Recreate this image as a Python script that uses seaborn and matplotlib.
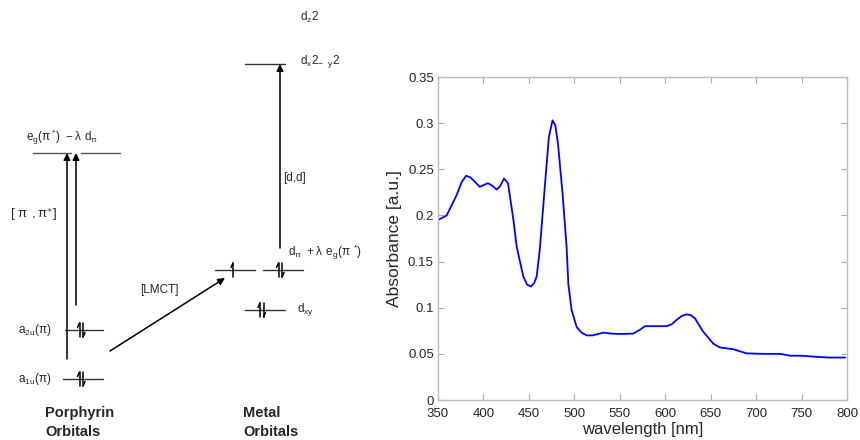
import numpy as np
import pandas as pd
import seaborn as sns
import matplotlib.pyplot as plt

# spectrum
wavelength = [350, 359.5, 370.5, 376, 381, 386, 391, 396, 405, 410, 414.5, 418.5, 422.6, 427, 433,
              436.6, 443.8, 448, 452.3, 456, 458.6, 462, 467.5, 472, 476, 479, 482, 487, 491.5,
              493.4, 497, 502.6, 508, 513.6, 520, 532, 540, 550, 565, 572, 577.7, 586.8, 601.5,
              607, 612.5, 618, 623.5, 628, 632.7, 641.8, 653, 660, 675, 689.6, 708, 726.5,
              737.5, 750, 763, 780, 798]
absorbance = [0.195, 0.200, 0.222, 0.236, 0.243, 0.241, 0.236, 0.231, 0.235, 0.232, 0.228, 0.232, 0.240, 0.235, 0.195,
              0.166, 0.134, 0.125, 0.123, 0.127, 0.134, 0.163, 0.231, 0.285, 0.303, 0.298, 0.278, 0.224, 0.166,
              0.126, 0.0975, 0.079, 0.073, 0.070, 0.070, 0.073, 0.072, 0.0715, 0.072, 0.076, 0.080, 0.080, 0.080,
              0.082, 0.0867, 0.091, 0.0928, 0.092, 0.0885, 0.074, 0.061, 0.057, 0.055, 0.0505, 0.050, 0.050,
              0.048, 0.048, 0.047, 0.046, 0.046]
xticks = [350, 400, 450, 500, 550, 600, 650, 700, 750, 800]
yticks = [0, 0.05, 0.1, 0.15, 0.2, 0.25, 0.3, 0.35]
ytick_labels = ['0', '0.05', '0.1', '0.15', '0.2', '0.25', '0.3', '0.35']

sns.set_style("white")
plt.rcParams['font.family'] = ['Liberation Sans', 'DejaVu Sans']
plt.rcParams['mathtext.default'] = 'regular'
plt.rcParams['mathtext.fontset'] = 'dejavusans'

fig = plt.figure(figsize=(8.6, 4.4), dpi=100)

# energy level diagram, drawn in pixel coordinates
dg = fig.add_axes([0, 0, 1, 1])
dg.set_xlim(0, 860)
dg.set_ylim(440, 0)
dg.axis('off')

def level(x0, x1, y, c='#333333'):
    dg.plot([x0, x1], [y, y], color=c, lw=1)

def up(x, y, c='k'):
    dg.plot([x, x], [y + 7, y - 7], color=c, lw=1.1)
    dg.plot([x, x - 2], [y - 7, y - 2.5], color=c, lw=1.1)

def down(x, y, c='k'):
    dg.plot([x, x], [y - 7, y + 7], color=c, lw=1.1)
    dg.plot([x, x + 2], [y + 7, y + 2.5], color=c, lw=1.1)

def arrow(x0, y0, x1, y1):
    dg.annotate('', xy=(x1, y1), xytext=(x0, y0),
                arrowprops=dict(arrowstyle='-|>', lw=1.1, color='k', mutation_scale=10,
                                shrinkA=0, shrinkB=0))

fs = 8.5
# porphyrin side
dg.text(26, 137, r"$e_g(\pi\,^{*})\ -\lambda\ d_\pi$", fontsize=fs, va='center')
level(33, 71, 153, '#555555')
level(81, 120, 153, '#555555')
arrow(67, 359, 67, 153)
arrow(76, 305, 76, 153)
dg.text(10, 215, r"$[\ \pi\ ,\pi^{\ast}]$", fontsize=9.5, va='center')
dg.text(18, 330, r"$a_{2u}(\pi)$", fontsize=fs, va='center')
level(65, 103, 330)
up(79.5, 330)
down(83, 330)
dg.text(18, 379, r"$a_{1u}(\pi)$", fontsize=fs, va='center')
level(63, 103, 379)
up(79.5, 379)
down(83, 379)
arrow(110, 351, 225, 278)
dg.text(140, 290, "[LMCT]", fontsize=fs, va='center')
dg.text(45, 413, "Porphyrin", fontsize=10.5, fontweight='bold', va='center')
dg.text(45, 432, "Orbitals", fontsize=10.5, fontweight='bold', va='center')

# metal side
dg.text(300, 17, r"$d_z2$", fontsize=fs, va='center')
dg.text(300, 62, r"$d_{x}2_{-\ \ y}2$", fontsize=fs, va='center')
level(245, 285, 64)
arrow(280, 248, 280, 64)
dg.text(283, 178, "[d,d]", fontsize=fs, va='center')
dg.text(288, 252, r"$d_\pi\ +\lambda\ e_g(\pi\ ^{*})$", fontsize=fs, va='center')
level(215, 255, 270)
level(263, 303, 270)
up(233, 270)
up(278.5, 270)
down(282, 270)
level(245, 285, 310)
up(260, 310)
down(263.5, 310)
dg.text(297, 309, r"$d_{xy}$", fontsize=fs, va='center')
dg.text(243, 413, "Metal", fontsize=10.5, fontweight='bold', va='center')
dg.text(243, 432, "Orbitals", fontsize=10.5, fontweight='bold', va='center')

# absorption spectrum
df = pd.DataFrame({'wavelength': wavelength, 'absorbance': absorbance})
ax = fig.add_axes([438 / 860, 40 / 440, 409 / 860, 323 / 440])
sns.lineplot(data=df, x='wavelength', y='absorbance', ax=ax, color='#0000ff', lw=1.3)
ax.set_xlim(350, 800)
ax.set_ylim(0, 0.35)
ax.set_xticks(xticks)
ax.set_yticks(yticks)
ax.set_yticklabels(ytick_labels)
ax.tick_params(direction='in', length=4, color='#aaaaaa', labelsize=9.5,
               top=True, right=True, bottom=True, left=True, pad=3)
ax.tick_params(axis='x', pad=6)
for s in ax.spines.values():
    s.set_color('#bbbbbb')
    s.set_linewidth(1)
    s.set_visible(True)
ax.set_xlabel('wavelength [nm]', fontsize=12, labelpad=1)
ax.set_ylabel('Absorbance [a.u.]', fontsize=12.5, labelpad=4)

fig.savefig('out.png', dpi=100)
